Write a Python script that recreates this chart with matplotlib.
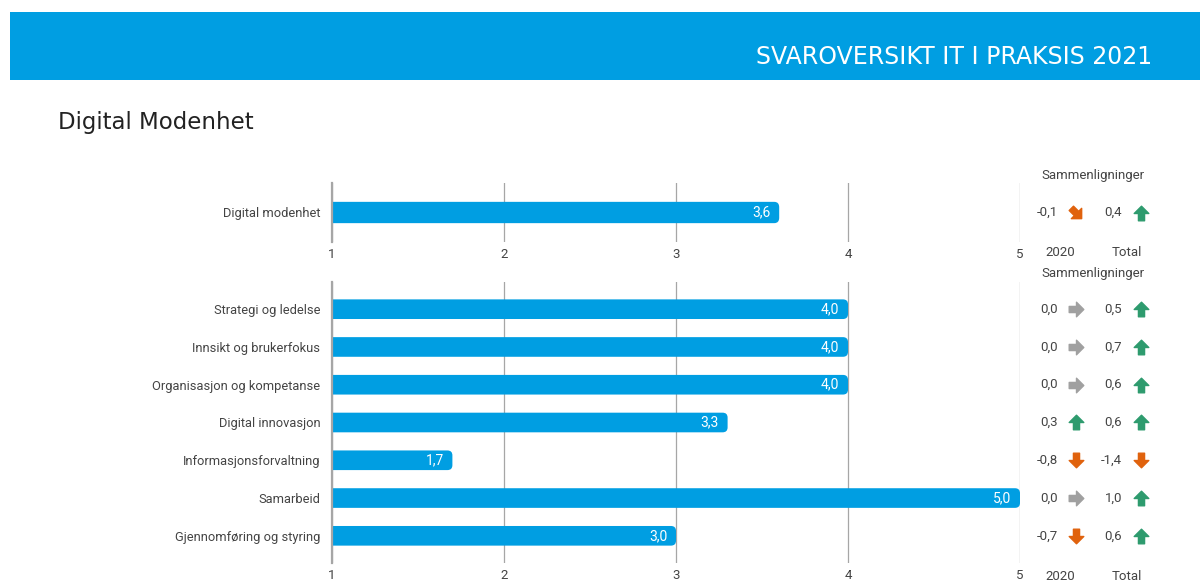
import matplotlib.pyplot as plt
from matplotlib.patches import FancyBboxPatch, Rectangle
from matplotlib.markers import MarkerStyle
from matplotlib.path import Path
from matplotlib.transforms import Affine2D

# overall score
total_label = ["Digital modenhet"]
total_score = [3.6]
total_vs_2020 = [-0.1]
total_vs_all = [0.4]

# sub areas
areas = [
    "Strategi og ledelse",
    "Innsikt og brukerfokus",
    "Organisasjon og kompetanse",
    "Digital innovasjon",
    "Informasjonsforvaltning",
    "Samarbeid",
    "Gjennomføring og styring",
]
area_scores = [4.0, 4.0, 4.0, 3.3, 1.7, 5.0, 3.0]
area_vs_2020 = [0.0, 0.0, 0.0, 0.3, -0.8, 0.0, -0.7]
area_vs_all = [0.5, 0.7, 0.6, 0.6, -1.4, 1.0, 0.6]

ticks = [1, 2, 3, 4, 5]

BLUE = "#009ee2"
GREEN = "#2e9b6e"
ORANGE = "#e0620d"
GREY_ARROW = "#a0a0a0"
TXT = "#444444"
LINE = "#a6a6a6"

plt.rcParams["font.family"] = ["Roboto", "DejaVu Sans"]

# block arrow pointing up, rotated for other directions
arrow_path = Path([(0, 1), (1, 0), (0.42, 0), (0.42, -1), (-0.42, -1),
                   (-0.42, 0), (-1, 0), (0, 1)], closed=True)


def arrow_style(v):
    if abs(v) < 0.05:
        return 270, GREY_ARROW
    if v >= 0.2:
        return 0, GREEN
    if v <= -0.2:
        return 180, ORANGE
    if v > 0:
        return 315, GREEN
    return 225, ORANGE


def fmt(v):
    return f"{v:.1f}".replace(".", ",")


def draw_panel(ax, labels, scores, vs_prev, vs_all):
    n = len(labels)
    y = list(range(n))
    bars = ax.barh(y, scores, height=0.52)
    ax.set_xlim(1, 5)
    ax.set_ylim(n - 1 + 0.72, -0.72)
    # swap plain bars for rounded ones (left end hidden behind the axis)
    px_x = 688 / 4
    px_y = 38.17
    r = 5 / px_x
    for b, s in zip(bars, scores):
        y0, h = b.get_y(), b.get_height()
        b.remove()
        p = FancyBboxPatch((1 - 2 * r, y0), s - 1 + 2 * r, h,
                           boxstyle=f"round,pad=0,rounding_size={r}",
                           mutation_aspect=px_x / px_y,
                           fc=BLUE, ec="none", zorder=2)
        ax.add_patch(p)
    for yi, s in zip(y, scores):
        ax.text(s - 0.05, yi, fmt(s), color="white", ha="right",
                va="center", fontsize=10, zorder=3)
    ax.set_yticks(y)
    ax.set_yticklabels(labels, fontsize=9.3, color=TXT)
    ax.set_xticks(ticks)
    ax.set_xticklabels([str(t) for t in ticks], fontsize=9.5, color=TXT)
    ax.tick_params(axis="both", length=0)
    ax.tick_params(axis="y", pad=8.5)
    ax.tick_params(axis="x", pad=4.5)
    for side in ["top", "right", "bottom"]:
        ax.spines[side].set_visible(False)
    ax.spines["left"].set_color(LINE)
    ax.spines["left"].set_linewidth(1.6)
    ax.spines["left"].set_zorder(4)
    ax.grid(axis="x", color=LINE, linewidth=0.9, zorder=0)
    ax.set_axisbelow(True)

    # comparison values with direction arrows
    tr = ax.get_yaxis_transform()
    for yi, a, b in zip(y, vs_prev, vs_all):
        for v, xt, xa in [(a, 1.0555, 1.0815), (b, 1.1485, 1.176)]:
            ax.text(xt, yi, fmt(v), transform=tr, ha="right", va="center",
                    fontsize=9.5, color=TXT, clip_on=False)
            rot, col = arrow_style(v)
            m = MarkerStyle(arrow_path, transform=Affine2D().rotate_deg(rot))
            ax.plot([xa], [yi], transform=tr, marker=m, markersize=10.5,
                    color=col, linestyle="none", clip_on=False)


fig = plt.figure(figsize=(12, 5.83), dpi=100)

# header band
fig.add_artist(Rectangle((10 / 1200, 1 - 80 / 583), 1 - 10 / 1200, 68 / 583,
                         transform=fig.transFigure, fc=BLUE, ec="none"))
fig.text(1152 / 1200, 1 - 57 / 583, "SVAROVERSIKT IT I PRAKSIS 2021",
         color="white", fontsize=17, ha="right", va="center",
         family="DejaVu Sans")
fig.text(58 / 1200, 1 - 123 / 583, "Digital Modenhet", color="#222222",
         fontsize=16.5, ha="left", va="center", family="DejaVu Sans")

ax1 = fig.add_axes([332 / 1200, (583 - 242) / 583, 688 / 1200, 59 / 583])
ax2 = fig.add_axes([332 / 1200, (583 - 563) / 583, 688 / 1200, 281 / 583])

draw_panel(ax1, total_label, total_score, total_vs_2020, total_vs_all)
draw_panel(ax2, areas, area_scores, area_vs_2020, area_vs_all)

# comparison column headings
for top_y, bot_y in [(175, 253), (273, 577)]:
    fig.text(1093 / 1200, 1 - top_y / 583, "Sammenligninger", ha="center",
             va="center", fontsize=9.5, color=TXT)
    fig.text(1060 / 1200, 1 - bot_y / 583, "2020", ha="center",
             va="center", fontsize=9.5, color=TXT)
    fig.text(1127 / 1200, 1 - bot_y / 583, "Total", ha="center",
             va="center", fontsize=9.5, color=TXT)

fig.savefig("out.png", dpi=100, facecolor="white")
